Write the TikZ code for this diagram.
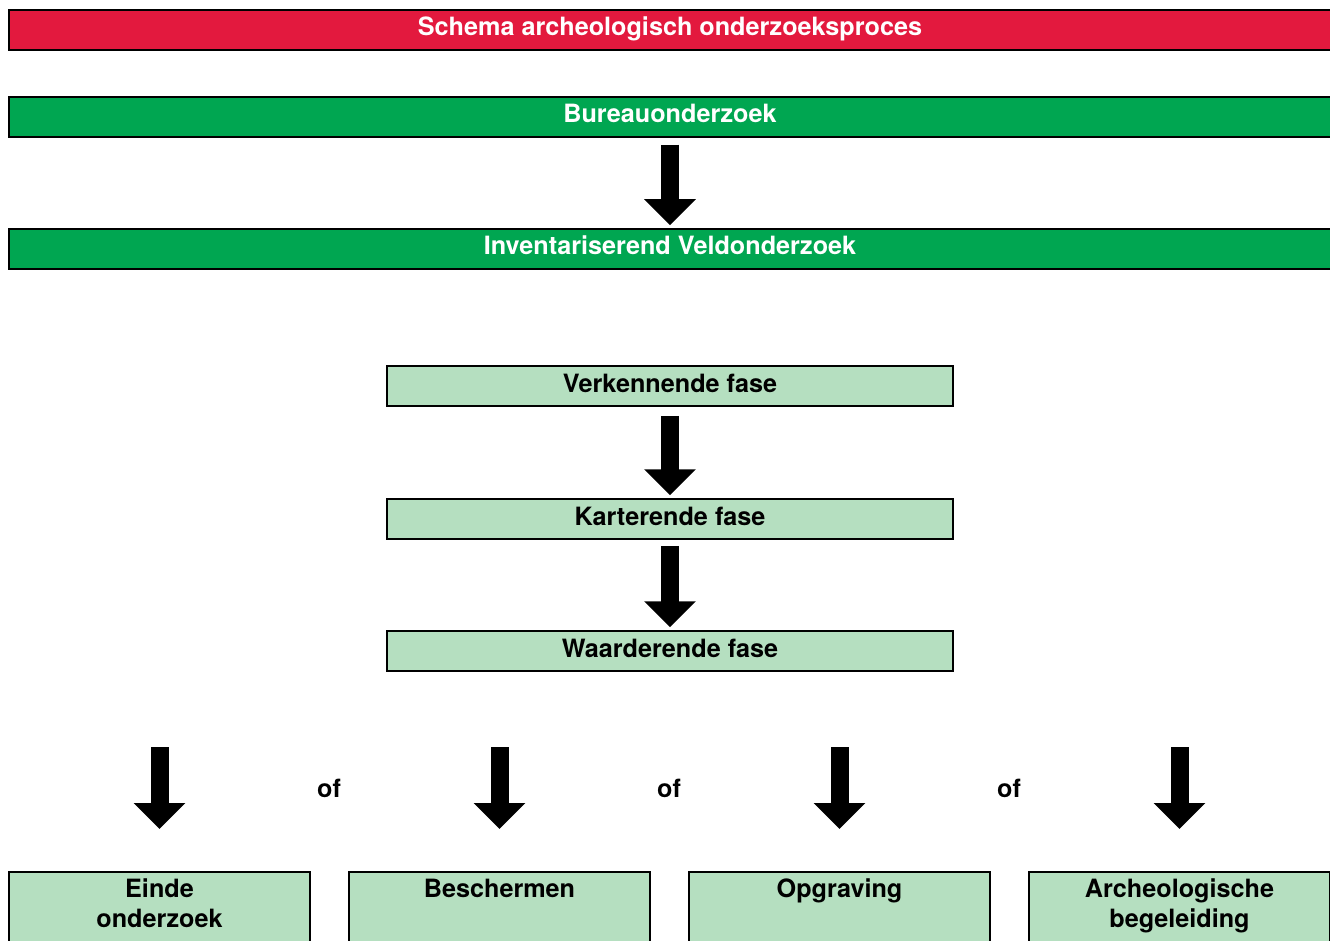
\documentclass[tikz,border=0pt]{standalone}
\usepackage{fontspec}
\setmainfont{TeX Gyre Heros}
\usetikzlibrary{arrows.meta}
\definecolor{barred}{RGB}{227,25,62}
\definecolor{bargreen}{RGB}{0,166,81}
\definecolor{lightgreen}{RGB}{181,223,192}
\tikzset{
  bar/.style={draw=black, line width=1.5pt, minimum width=1322pt, minimum height=40pt, inner sep=0pt, text height=18pt, text depth=6pt, text=white, font=\fontsize{25.2}{30}\selectfont\bfseries},
  phase/.style={draw=black, line width=1.5pt, fill=lightgreen, minimum width=566pt, minimum height=40pt, inner sep=0pt, text height=18pt, text depth=6pt, font=\fontsize{25.2}{30}\selectfont\bfseries},
  outcome/.style={draw=black, line width=1.5pt, fill=lightgreen, anchor=north, minimum width=301pt, inner sep=0pt, font=\fontsize{25.2}{30}\selectfont\bfseries},
  ortext/.style={font=\fontsize{25.2}{30}\selectfont\bfseries, inner sep=0pt},
  bigarrow/.style={line width=18pt, line cap=butt, -{Triangle[width=50pt,length=26pt]}},
}
\newcommand{\boxtext}[1]{\parbox[t][86pt][t]{295pt}{\centering\vspace*{7pt}#1}}
\begin{document}
\begin{tikzpicture}[x=1pt,y=-1pt]
\clip (0,0) rectangle (1330,941);
\fill[white] (0,0) rectangle (1330,941);

\node[bar, fill=barred] (title) at (670,30) {Schema archeologisch onderzoeksproces};
\node[bar, fill=bargreen] (bureau) at (670,117) {Bureauonderzoek};
\node[bar, fill=bargreen] (inv) at (670,249) {Inventariserend Veldonderzoek};

\node[phase] (verk) at (670,386) {Verkennende fase};
\node[phase] (kart) at (670,519) {Karterende fase};
\node[phase] (waard) at (670,651) {Waarderende fase};

\draw[bigarrow] ([yshift=-7pt]bureau.south) -- ([yshift=3pt]inv.north);
\draw[bigarrow] ([yshift=-9pt]verk.south) -- ([yshift=3pt]kart.north);
\draw[bigarrow] ([yshift=-6pt]kart.south) -- ([yshift=3pt]waard.north);

\node[outcome] (einde) at (159.5,871) {\boxtext{Einde\\onderzoek}};
\node[outcome] (besch) at (499.5,871) {\boxtext{Beschermen}};
\node[outcome] (opgr) at (839.5,871) {\boxtext{Opgraving}};
\node[outcome] (arch) at (1179.5,871) {\boxtext{Archeologische\\begeleiding}};

\foreach \b in {einde,besch,opgr,arch}{
  \coordinate (s\b) at ([yshift=124pt]\b.north);
  \draw[bigarrow] (s\b) -- ([yshift=42pt]\b.north);
}

\node[ortext] (of1) at (329,788) {of};
\node[ortext] (of2) at (669,788) {of};
\node[ortext] (of3) at (1009,788) {of};
\end{tikzpicture}
\end{document}
